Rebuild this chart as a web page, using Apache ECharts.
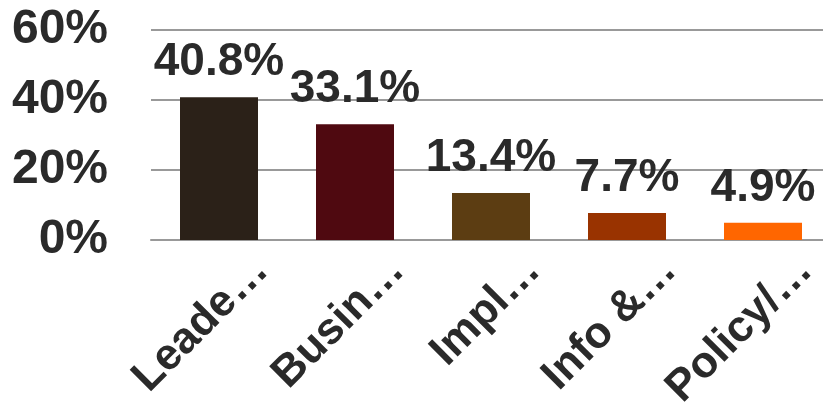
<!DOCTYPE html>
<html>
<head>
<meta charset="utf-8">
<style>
  html, body { margin: 0; padding: 0; background: #ffffff; }
  #chart { width: 823px; height: 408px; }
</style>
<script src="https://cdn.jsdelivr.net/npm/echarts@6/dist/echarts.min.js"></script>
</head>
<body>
<div id="chart"></div>
<script>
// Share of responses per category
const categories = ['Leade…', 'Busin…', 'Impl…', 'Info &…', 'Policy/…'];
const shares = [40.8, 33.1, 13.4, 7.7, 4.9];
const yTicks = [0, 20, 40, 60];

// One colour per bar, dark brown through to orange
const palette = ['#2b2118', '#4f0910', '#5c3d12', '#993300', '#ff6600'];

const textColor = '#2a2a2a';
const fontFamily = '"Liberation Sans", Arial, sans-serif';

const chart = echarts.init(document.getElementById('chart'), null, { renderer: 'canvas' });

chart.setOption({
  animation: false,
  // the plot runs slightly past the right edge of the canvas
  grid: { left: 151, width: 680, top: 30, height: 210, containLabel: false, outerBoundsMode: 'none' },
  xAxis: {
    type: 'category',
    data: categories,
    axisLine: { show: true, lineStyle: { color: '#999999', width: 2 } },
    axisTick: { show: false },
    axisLabel: {
      rotate: 45,
      margin: 18,
      interval: 0,
      // hang the slanted text below and ahead of its anchor point
      verticalAlign: 'top',
      lineHeight: 68,
      padding: [0, -26, 0, 0],
      color: textColor,
      fontFamily: fontFamily,
      fontWeight: 'bold',
      fontSize: 44
    }
  },
  yAxis: {
    type: 'value',
    min: yTicks[0],
    max: yTicks[yTicks.length - 1],
    interval: yTicks[1] - yTicks[0],
    axisLine: { show: false },
    axisTick: { show: false },
    splitLine: { show: true, lineStyle: { color: '#999999', width: 2 } },
    axisLabel: {
      margin: 43,
      color: textColor,
      fontFamily: fontFamily,
      fontWeight: 'bold',
      fontSize: 48,
      formatter: '{value}%'
    }
  },
  series: [{
    type: 'bar',
    barWidth: 78,
    data: shares.map((v, i) => ({ value: v, itemStyle: { color: palette[i] } })),
    label: {
      show: true,
      position: 'top',
      distance: 12,
      color: textColor,
      fontFamily: fontFamily,
      fontWeight: 'bold',
      fontSize: 46,
      formatter: (p) => p.value + '%'
    }
  }]
});
</script>
</body>
</html>
